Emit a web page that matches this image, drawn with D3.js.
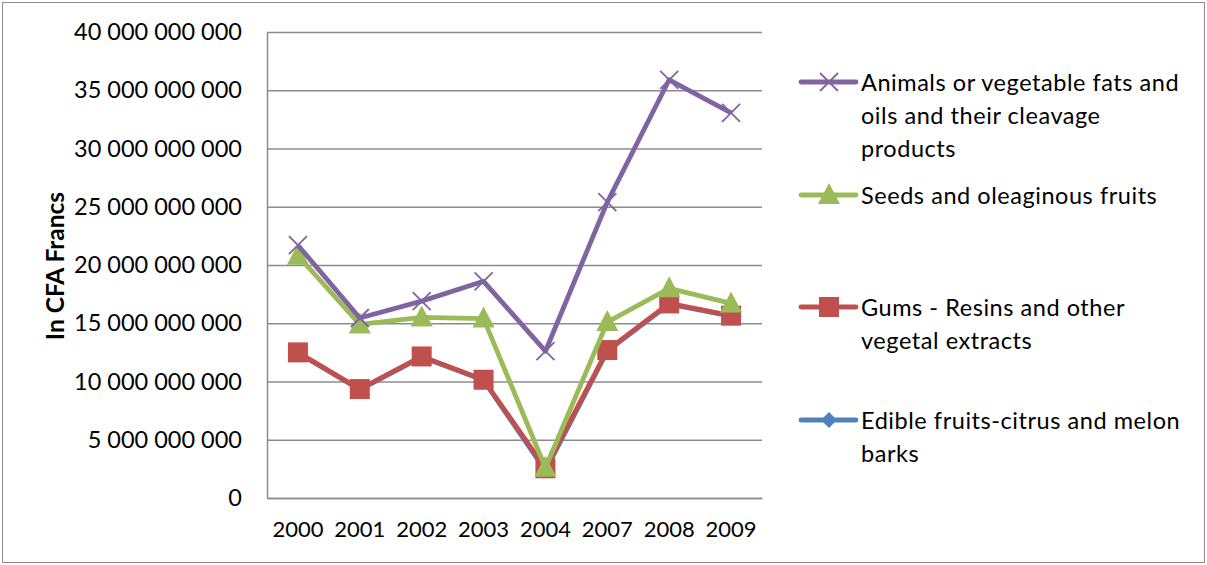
<!DOCTYPE html>
<html>
<head>
<meta charset="utf-8">
<script src="https://cdn.jsdelivr.net/npm/d3@7"></script>
<style>
  html, body { margin: 0; padding: 0; background: #fff; }
  svg { display: block; font-family: Lato, "Open Sans", sans-serif; }
</style>
</head>
<body>
<svg id="chart" width="1207" height="565"></svg>
<script>
// Export values by product group, in CFA francs
const years = ["2000", "2001", "2002", "2003", "2004", "2007", "2008", "2009"];

const animalFats   = [21.7e9, 15.45e9, 16.9e9, 18.6e9, 12.6e9, 25.4e9, 35.9e9, 33.05e9];
const seedsFruits  = [20.8e9, 14.9e9, 15.5e9, 15.4e9, 2.6e9, 15.1e9, 18.0e9, 16.7e9];
const gumsResins   = [12.5e9, 9.35e9, 12.15e9, 10.15e9, 2.55e9, 12.7e9, 16.7e9, 15.65e9];
const edibleFruits = [12.45e9, 9.3e9, 12.1e9, 10.1e9, 2.35e9, 12.6e9, 16.65e9, 15.6e9];

const seriesNames = [
  ["Animals or vegetable fats and", "oils and their cleavage", "products"],
  ["Seeds and oleaginous fruits"],
  ["Gums - Resins and other", "vegetal extracts"],
  ["Edible fruits-citrus and melon", "barks"]
];

const yTicks = [0, 5e9, 10e9, 15e9, 20e9, 25e9, 30e9, 35e9, 40e9];

const series = [
  { name: seriesNames[3], values: edibleFruits, color: "#4F81BD", marker: "diamond" },
  { name: seriesNames[2], values: gumsResins,   color: "#C0504D", marker: "square" },
  { name: seriesNames[1], values: seedsFruits,  color: "#9BBB59", marker: "triangle" },
  { name: seriesNames[0], values: animalFats,   color: "#8064A2", marker: "cross" }
];

const svg = d3.select("#chart");

// outer chart frame
svg.append("rect")
  .attr("x", 2.5).attr("y", 2.5)
  .attr("width", 1202).attr("height", 560)
  .attr("fill", "#fff").attr("stroke", "#8c8c8c").attr("stroke-width", 1);

const plot = { left: 267, right: 762, top: 32, bottom: 498 };

const x = d3.scaleBand().domain(years).range([plot.left, plot.right]).padding(0);
const cx = d => x(d) + x.bandwidth() / 2;
const y = d3.scaleLinear().domain([0, 40e9]).range([plot.bottom, plot.top]);

const fmt = v => v === 0 ? "0" : d3.format(",")(v).replace(/,/g, " ");

// horizontal gridlines
const grid = svg.append("g")
  .attr("transform", `translate(${plot.left},0)`)
  .call(d3.axisLeft(y).tickValues(yTicks).tickSize(-(plot.right - plot.left)).tickFormat(""));
grid.select(".domain").remove();
grid.selectAll("line").attr("stroke", "#8c8c8c").attr("stroke-width", 1.3);

// y axis labels
const yAxis = svg.append("g")
  .attr("transform", `translate(${plot.left},0)`)
  .call(d3.axisLeft(y).tickValues(yTicks).tickSize(0).tickPadding(25).tickFormat(fmt));
yAxis.select(".domain").attr("stroke", "#8c8c8c").attr("stroke-width", 1.5);
yAxis.selectAll("text")
  .attr("font-family", "Lato, sans-serif")
  .attr("font-size", 23.5).attr("fill", "#000");

// x axis
const xAxis = svg.append("g")
  .attr("transform", `translate(0,${plot.bottom})`)
  .call(d3.axisBottom(x).tickSize(0).tickPadding(23));
xAxis.select(".domain").attr("stroke", "#8c8c8c").attr("stroke-width", 1.5);
xAxis.selectAll("text")
  .attr("font-family", "Lato, sans-serif")
  .attr("font-size", 22).attr("fill", "#000");

// y axis title
svg.append("text")
  .attr("transform", `translate(64,${(plot.top + plot.bottom) / 2 + 1}) rotate(-90)`)
  .attr("text-anchor", "middle")
  .attr("font-family", "Lato, sans-serif")
  .attr("font-weight", "bold")
  .attr("font-size", 24.5)
  .text("In CFA Francs");

function drawMarker(g, type, color, px, py) {
  if (type === "square") {
    g.append("rect").attr("x", px - 10).attr("y", py - 10).attr("width", 20).attr("height", 20)
      .attr("fill", color);
  } else if (type === "triangle") {
    g.append("path").attr("d", `M${px},${py - 12}L${px + 11},${py + 9}L${px - 11},${py + 9}Z`)
      .attr("fill", color);
  } else if (type === "diamond") {
    g.append("path").attr("d", `M${px},${py - 8}L${px + 8},${py}L${px},${py + 8}L${px - 8},${py}Z`)
      .attr("fill", color);
  } else if (type === "cross") {
    g.append("path").attr("d", `M${px - 9},${py - 9}L${px + 9},${py + 9}M${px + 9},${py - 9}L${px - 9},${py + 9}`)
      .attr("stroke", color).attr("stroke-width", 1.8).attr("fill", "none");
  }
}

const line = d3.line().x((d, i) => cx(years[i])).y(d => y(d));

series.forEach(s => {
  const g = svg.append("g");
  g.append("path")
    .datum(s.values)
    .attr("d", line)
    .attr("fill", "none")
    .attr("stroke", s.color)
    .attr("stroke-width", 4.8)
    .attr("stroke-linejoin", "round");
  s.values.forEach((v, i) => drawMarker(g, s.marker, s.color, cx(years[i]), y(v)));
});

// legend
const legendTops = [82, 195, 307, 420];
const legendSeries = series.slice().reverse();
const lineH = 33;
legendSeries.forEach((s, k) => {
  const ly = legendTops[k];
  const g = svg.append("g");
  g.append("line")
    .attr("x1", 801).attr("x2", 856).attr("y1", ly).attr("y2", ly)
    .attr("stroke", s.color).attr("stroke-width", 4.8).attr("stroke-linecap", "round");
  drawMarker(g, s.marker, s.color, 829, ly);
  const t = g.append("text")
    .attr("x", 861).attr("y", ly)
    .attr("font-family", "Lato, sans-serif")
    .attr("font-size", 23.5)
    .attr("letter-spacing", 0.55)
    .attr("dominant-baseline", "central");
  s.name.forEach((ln, j) => {
    t.append("tspan").attr("x", 861).attr("y", ly + j * lineH).text(ln);
  });
});
</script>
</body>
</html>
